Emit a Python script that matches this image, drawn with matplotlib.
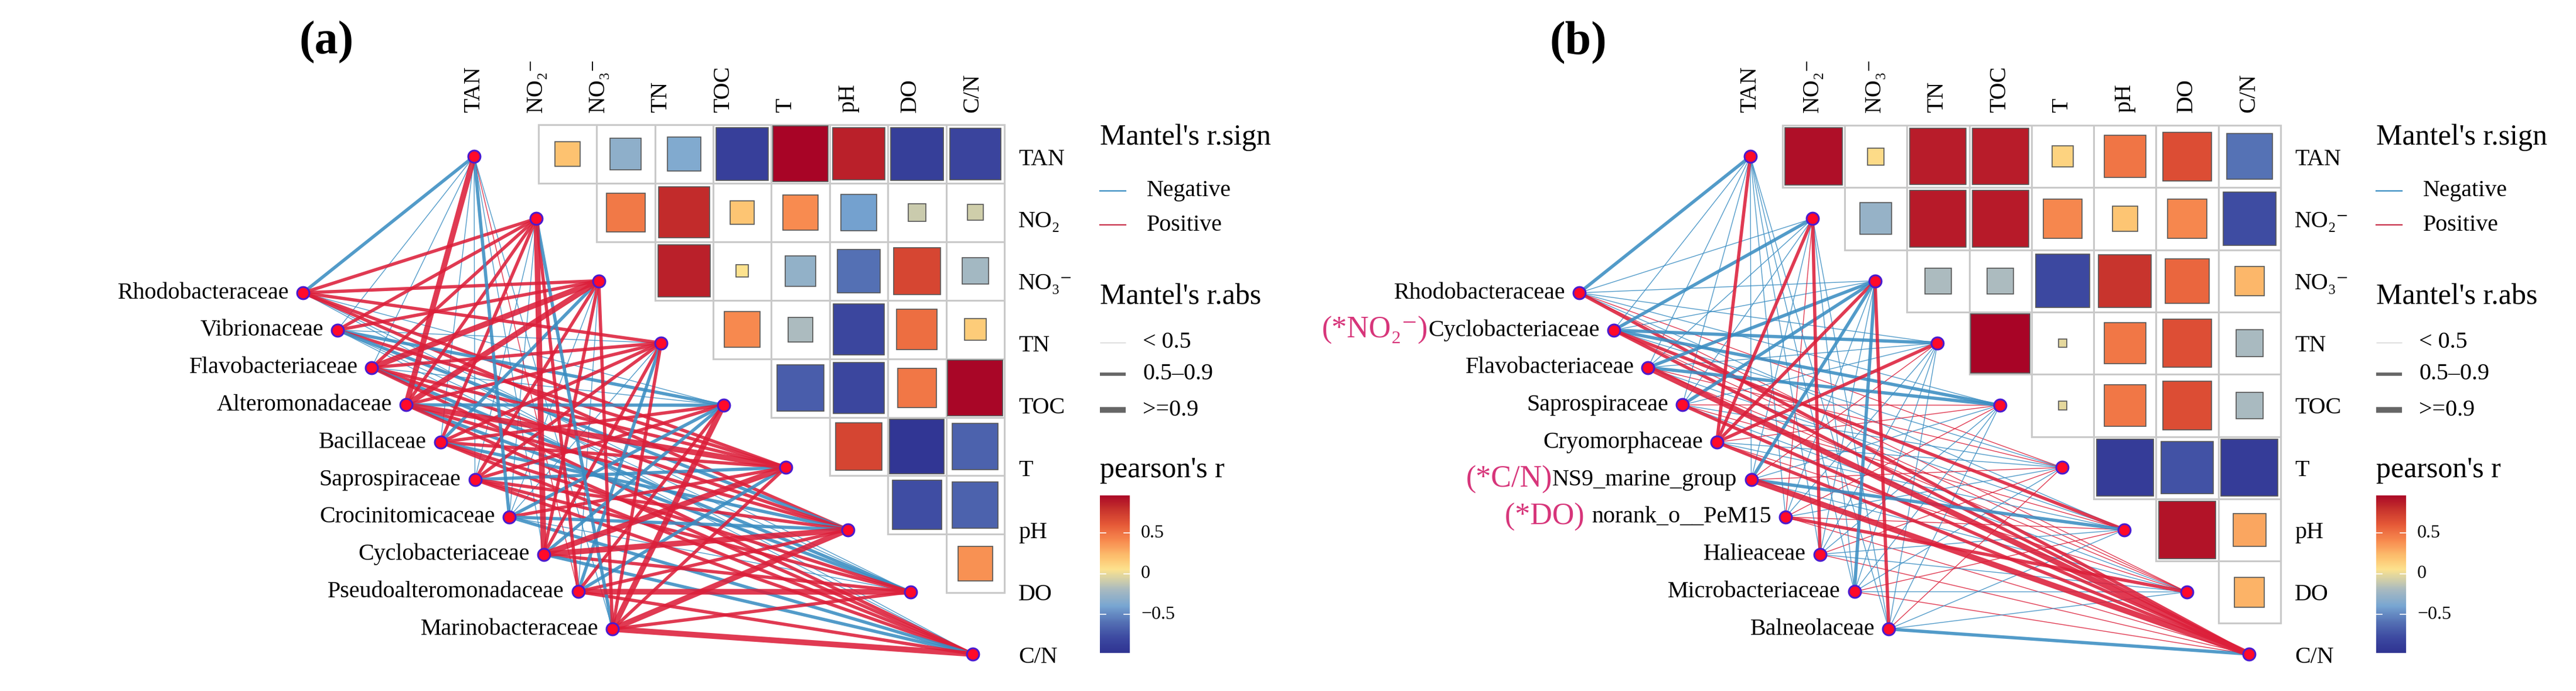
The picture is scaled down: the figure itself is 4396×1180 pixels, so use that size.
import numpy as np
import matplotlib
matplotlib.use("Agg")
import matplotlib.pyplot as plt
from matplotlib.colors import LinearSegmentedColormap
from matplotlib.patches import Rectangle

# ---------------- data ----------------
env_cols = ["TAN", "NO\u2082\u207b", "NO\u2083\u207b", "TN", "TOC", "T", "pH", "DO", "C/N"]
env_rows_a = ["TAN", "NO\u2082", "NO\u2083\u207b", "TN", "TOC", "T", "pH", "DO", "C/N"]
env_rows_b = ["TAN", "NO\u2082\u207b", "NO\u2083\u207b", "TN", "TOC", "T", "pH", "DO", "C/N"]

species_a = ["Rhodobacteraceae", "Vibrionaceae", "Flavobacteriaceae", "Alteromonadaceae",
             "Bacillaceae", "Saprospiraceae", "Crocinitomicaceae", "Cyclobacteriaceae",
             "Pseudoalteromonadaceae", "Marinobacteraceae"]
species_b = ["Rhodobacteraceae", "Cyclobacteriaceae", "Flavobacteriaceae", "Saprospiraceae",
             "Cryomorphaceae", "NS9_marine_group", "norank_o__PeM15", "Halieaceae",
             "Microbacteriaceae", "Balneolaceae"]
prefix_b = ["", "(*NO\u2082\u207b)", "", "", "", "(*C/N)", "(*DO) ", "", "", ""]

# Pearson r between environmental factors (upper triangle, row i -> columns i+1..8)
pearson_a = [
    [0.20, -0.31, -0.36, -0.87, 0.98, 0.86, -0.88, -0.83],
    [0.47, 0.82, 0.18, 0.40, -0.42, -0.10, -0.08],
    [0.86, 0.05, -0.29, -0.60, 0.69, -0.22],
    [0.41, -0.19, -0.82, 0.52, 0.15],
    [-0.69, -0.82, 0.48, 0.97],
    [0.70, -0.95, -0.67],
    [-0.77, -0.67],
    [0.38],
]
pearson_b = [
    [0.93, 0.08, 0.88, 0.88, 0.12, 0.49, 0.66, -0.59],
    [-0.28, 0.89, 0.89, 0.42, 0.18, 0.42, -0.78],
    [-0.19, -0.19, -0.80, 0.78, 0.55, 0.24],
    [0.98, -0.02, 0.48, 0.65, -0.20],
    [-0.02, 0.48, 0.66, -0.20],
    [-0.90, -0.75, -0.90],
    [0.92, 0.30],
    [0.25],
]

# Mantel r (species x env: TAN, NO2, NO3, TN, TOC, T, pH, DO, C/N)
mantel_a = [
    [-0.60, 0.75, 0.60, 0.70, -0.30, 0.70, 0.60, -0.40, -0.30],
    [-0.30, 0.80, 0.60, -0.30, -0.60, 0.80, -0.60, -0.30, -0.30],
    [-0.30, 0.70, 0.92, 0.60, -0.40, 0.80, 0.60, -0.60, 0.60],
    [0.92, 0.60, 0.92, 0.80, -0.60, 0.92, 0.70, -0.60, 0.80],
    [-0.30, 0.60, -0.60, 0.70, 0.80, 0.60, -0.60, 0.60, 0.60],
    [-0.30, -0.30, 0.70, 0.80, 0.60, -0.60, 0.80, 0.60, 0.70],
    [-0.60, -0.30, -0.30, -0.30, -0.60, 0.60, -0.60, -0.30, -0.60],
    [-0.30, 0.95, 0.70, 0.80, -0.60, 0.92, 0.95, 0.70, -0.60],
    [0.30, 0.80, -0.30, -0.60, 0.70, -0.60, 0.80, 0.95, 0.70],
    [-0.30, -0.60, 0.80, 0.60, 0.92, 0.80, 0.95, 0.70, 0.92],
]
mantel_b = [
    [-0.60, -0.30, -0.30, -0.30, -0.30, 0.30, -0.30, 0.30, 0.80],
    [-0.30, -0.60, -0.30, -0.70, -0.70, -0.30, 0.60, 0.30, 0.85],
    [-0.30, -0.30, -0.70, -0.30, -0.60, 0.30, -0.30, 0.30, 0.92],
    [-0.30, -0.30, -0.70, -0.30, 0.30, -0.30, 0.30, -0.30, 0.80],
    [0.60, 0.60, 0.60, 0.60, 0.30, -0.30, -0.30, 0.30, 0.60],
    [-0.30, -0.30, -0.60, 0.30, -0.30, 0.30, -0.70, -0.30, 0.92],
    [-0.30, 0.30, -0.30, -0.30, 0.30, -0.30, 0.30, 0.85, 0.30],
    [-0.30, 0.60, -0.30, -0.30, -0.30, 0.30, -0.30, -0.30, 0.30],
    [-0.30, -0.30, -0.60, -0.30, -0.30, -0.30, 0.30, -0.30, 0.30],
    [-0.30, -0.30, 0.60, -0.30, -0.30, 0.30, -0.30, -0.30, -0.60],
]

cbar_ticks = [0.5, 0.0, -0.5]
cbar_labels = ["0.5", "0", "\u22120.5"]

# ---------------- style ----------------
W, H = 4396, 1180
DPI = 100
PT = 72.0 / DPI
SERIF = ["Liberation Serif", "DejaVu Serif"]
plt.rcParams["font.family"] = SERIF

cmap = LinearSegmentedColormap.from_list("pr", [
    (0.000, "#2E3190"), (0.100, "#3C48A0"), (0.200, "#5470B4"), (0.300, "#78A6D2"),
    (0.400, "#A9BAC0"), (0.475, "#DAD3A4"), (0.525, "#FDE28E"), (0.600, "#FDC270"),
    (0.700, "#F88C50"), (0.800, "#E65A38"), (0.900, "#C5302C"), (1.000, "#A50026")])
VMIN, VMAX = -1.0, 1.0
POS_COL = "#DC1F3A"
NEG_COL = "#3A8DC2"
LW_CLASSES = [1.0, 4.0, 7.0]


def lw_of(r):
    a = abs(r)
    return LW_CLASSES[0] if a < 0.5 else (LW_CLASSES[1] if a < 0.9 else LW_CLASSES[2])


fig = plt.figure(figsize=(W / DPI, H / DPI), dpi=DPI)
ax = fig.add_axes([0, 0, 1, 1])
ax.set_xlim(0, W)
ax.set_ylim(H, 0)
ax.axis("off")

# env grid / species layout (pixel units, relative to panel offset)
ENV_X0, ENV_Y0, ENV_SX, ENV_SY = 809, 267, 106.4, 106.25
SP_X0, SP_Y0, SP_SX, SP_SY = 517, 500, 58.7, 63.8

panels = [
    dict(off=0, letter="(a)", letter_x=557, species=species_a, prefix=None, rows=env_rows_a,
         pearson=pearson_a, mantel=mantel_a, hm_right=1714, hm_top=213, cw=99.4, ch=99.9),
    dict(off=2178, letter="(b)", letter_x=2693, species=species_b, prefix=prefix_b, rows=env_rows_b,
         pearson=pearson_b, mantel=mantel_b, hm_right=3892, hm_top=214, cw=106.3, ch=106.3),
]

label_fs = 40 * PT
prefix_texts = []

for p in panels:
    off = p["off"]
    n_env = len(env_cols)
    ex = [off + ENV_X0 + k * ENV_SX for k in range(n_env)]
    ey = [ENV_Y0 + k * ENV_SY for k in range(n_env)]
    sx = [off + SP_X0 + i * SP_SX for i in range(len(p["species"]))]
    sy = [SP_Y0 + i * SP_SY for i in range(len(p["species"]))]

    # mantel links, thin first
    links = []
    for i, row in enumerate(p["mantel"]):
        for k, r in enumerate(row):
            links.append((lw_of(r), i, k, r))
    links.sort(key=lambda t: t[0])
    for lw, i, k, r in links:
        ax.plot([sx[i], ex[k]], [sy[i], ey[k]], color=POS_COL if r > 0 else NEG_COL,
                lw=lw, alpha=0.88, solid_capstyle="round", zorder=2)

    # nodes
    ax.scatter(sx, sy, s=15 ** 2, c="#FF0A2A", edgecolors="#4A1BD0", linewidths=2.2, zorder=5)
    ax.scatter(ex, ey, s=15 ** 2, c="#FF0A2A", edgecolors="#4A1BD0", linewidths=2.2, zorder=5)

    # species labels
    for i, name in enumerate(p["species"]):
        t = ax.text(sx[i] - 24, sy[i], name, ha="right", va="center", fontsize=label_fs, zorder=6)
        if p["prefix"] and p["prefix"][i]:
            prefix_texts.append((t, p["prefix"][i]))

    # heatmap (upper triangle)
    cw, ch = p["cw"], p["ch"]
    left0 = p["hm_right"] - n_env * cw
    for i, vals in enumerate(p["pearson"]):
        for m, r in enumerate(vals):
            j = i + 1 + m
            x0 = left0 + j * cw
            y0 = p["hm_top"] + i * ch
            ax.add_patch(Rectangle((x0, y0), cw, ch, facecolor="white", edgecolor="#C9C9C9",
                                   lw=2.2, zorder=3))
            side = np.sqrt(abs(r))
            w, h = cw * side * 0.96, ch * side * 0.96
            ax.add_patch(Rectangle((x0 + (cw - w) / 2, y0 + (ch - h) / 2), w, h,
                                   facecolor=cmap((r - VMIN) / (VMAX - VMIN)),
                                   edgecolor="#555555", lw=1.2, zorder=4))

    # column labels (top, rotated) and row labels (right)
    for k, lab in enumerate(env_cols):
        ax.text(ex[k], 192, lab, rotation=90, ha="center", va="bottom", fontsize=label_fs)
    for k, lab in enumerate(p["rows"]):
        ax.text(off + 1738, ey[k] + 5, lab, ha="left", va="center", fontsize=label_fs)

    # panel letter
    ax.text(p["letter_x"], 72, p["letter"], ha="center", va="center", fontsize=80 * PT,
            fontweight="bold")

    # ---- legends ----
    lx = off + 1877
    title_fs = 50 * PT
    ax.text(lx, 235, "Mantel's r.sign", ha="left", va="center", fontsize=title_fs)
    for yy, col, lab in [(326, NEG_COL, "Negative"), (384, "#C8304A", "Positive")]:
        ax.plot([lx, lx + 44], [yy, yy], color=col, lw=1.6)
        ax.text(lx + 80, yy, lab, ha="left", va="center", fontsize=label_fs)
    ax.text(lx, 507, "Mantel's r.abs", ha="left", va="center", fontsize=title_fs)
    for yy, lw, col, lab in [(585, 0.6, "#BBBBBB", "< 0.5"), (639, LW_CLASSES[1], "#666666", "0.5\u20130.9"),
                             (700, LW_CLASSES[2], "#666666", ">=0.9")]:
        ax.plot([lx, lx + 44], [yy, yy], color=col, lw=lw, solid_capstyle="butt")
        ax.text(lx + 73, yy, lab, ha="left", va="center", fontsize=label_fs)
    ax.text(lx, 803, "pearson's r", ha="left", va="center", fontsize=title_fs)

    cb_top, cb_bot, cb_w = 846, 1115, 51
    cb_min, cb_max = -0.97, 0.96
    cax = fig.add_axes([lx / W, 1 - cb_bot / H, cb_w / W, (cb_bot - cb_top) / H])
    grad = np.linspace(cb_min, cb_max, 256).reshape(-1, 1)
    cax.imshow(grad, aspect="auto", origin="lower", cmap=cmap, vmin=VMIN, vmax=VMAX,
               extent=[0, 1, cb_min, cb_max])
    cax.set_xlim(0, 1)
    cax.set_ylim(cb_min, cb_max)
    for v in cbar_ticks:
        cax.plot([0, 0.2], [v, v], color="white", lw=1.2)
        cax.plot([0.8, 1], [v, v], color="white", lw=1.2)
    cax.axis("off")
    for v, lab in zip(cbar_ticks, cbar_labels):
        yy = cb_top + (cb_max - v) / (cb_max - cb_min) * (cb_bot - cb_top)
        ax.text(lx + 70, yy, lab, ha="left", va="center", fontsize=32 * PT)

# pink prefixes placed right before the species names
fig.canvas.draw()
renderer = fig.canvas.get_renderer()
inv = ax.transData.inverted()
for t, pre in prefix_texts:
    bb = t.get_window_extent(renderer)
    x_left, _ = inv.transform((bb.x0, bb.y0))
    _, yc = t.get_position()
    ax.text(x_left, yc, pre, ha="right", va="center", fontsize=52 * PT, color="#D7357A")

fig.savefig("out.png", dpi=DPI)
